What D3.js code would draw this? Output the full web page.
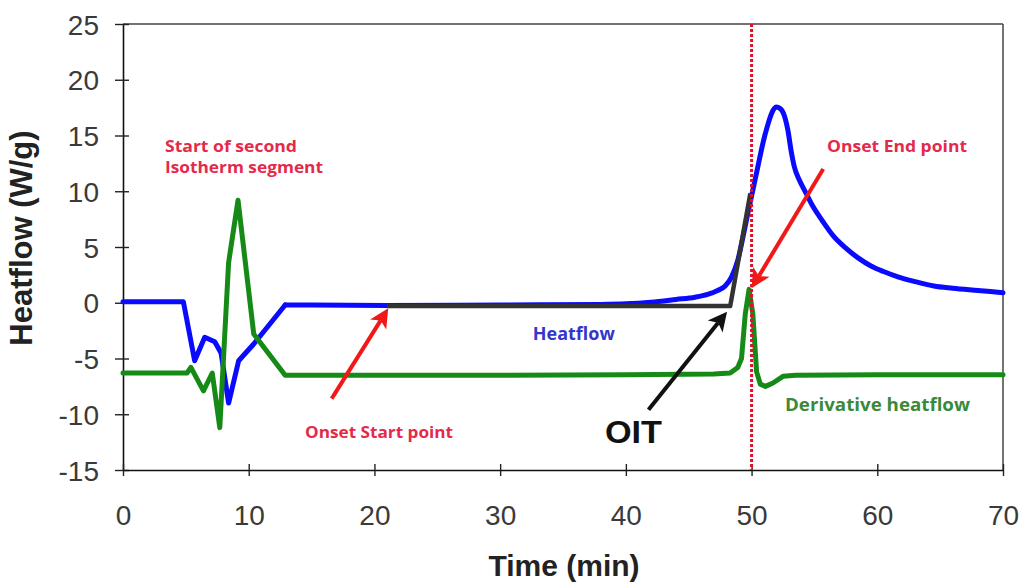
<!DOCTYPE html>
<html><head><meta charset="utf-8">
<script src="https://cdn.jsdelivr.net/npm/d3@7"></script>
<style>body{margin:0;background:#fff} svg{display:block}</style>
</head><body><svg id="c" width="1024" height="583"></svg>
<script>
// ---------- data ----------
const xTicks = [0, 10, 20, 30, 40, 50, 60, 70];
const yTicks = [25, 20, 15, 10, 5, 0, -5, -10, -15];

const heatTime  = [0, 4.8, 5.7, 6.5, 7.3, 7.8, 8.4, 9.2, 10.4, 12.9, 15, 21, 30, 38, 40, 42, 44, 45.5, 46.5, 47.3, 47.9, 48.4, 48.9, 49.3, 49.7, 50.1, 50.5, 50.9, 51.3, 51.6, 51.95, 52.3, 52.6, 52.9, 53.15, 53.4, 53.8, 54.3, 54.9, 55.6, 56.5, 57.5, 58.5, 59.5, 60.5, 61.7, 63, 64.5, 66, 68, 70];
const heatValue = [0.1, 0.1, -5.2, -3.1, -3.5, -4.5, -9.0, -5.2, -3.7, -0.2, -0.2, -0.25, -0.2, -0.15, -0.1, 0.05, 0.3, 0.5, 0.75, 1.1, 1.5, 2.3, 3.8, 5.8, 8.0, 10.1, 12.2, 14.3, 16.0, 17.0, 17.55, 17.4, 16.8, 15.4, 13.6, 12.2, 11.0, 9.9, 8.6, 7.4, 6.0, 4.9, 4.0, 3.3, 2.8, 2.3, 1.9, 1.5, 1.3, 1.1, 0.9];

const derivTime  = [0, 5.1, 5.4, 6.4, 7.1, 7.7, 8.4, 9.15, 10.4, 12.9, 20, 30, 40, 47, 48.3, 48.9, 49.2, 49.5, 49.8, 50.1, 50.4, 50.7, 51.1, 51.7, 52.5, 53.5, 60, 70];
const derivValue = [-6.3, -6.3, -5.8, -7.9, -6.3, -11.2, 3.6, 9.2, -2.8, -6.5, -6.5, -6.5, -6.45, -6.4, -6.3, -5.8, -5.0, -1.0, 1.2, -1.0, -6.2, -7.3, -7.5, -7.2, -6.6, -6.5, -6.45, -6.45];

const tangentTime  = [21, 48.3, 49.9];
const tangentValue = [-0.3, -0.3, 9.8];

const oitTime = 50;

// arrows: [fromTime, fromValue, toTime, toValue]
const arrowStart = [16.6, -8.6, 21.1, -0.5];
const arrowOIT   = [41.8, -9.6, 48.05, -0.8];
const arrowEnd   = [55.7, 12.0, 50.0, 1.3];

// ---------- chart ----------
const svg = d3.select("#c");
const x = d3.scaleLinear().domain([0, 70]).range([123, 1003]);
const y = d3.scaleLinear().domain([-15, 25]).range([470, 24]);
const fmt = d => String(d);

// frame (top & right)
svg.append("line").attr("x1", x(0)).attr("x2", x(70)).attr("y1", y(25)).attr("y2", y(25))
  .attr("stroke", "#444").attr("stroke-width", 1.5);
svg.append("line").attr("x1", x(70)).attr("x2", x(70)).attr("y1", y(25)).attr("y2", y(-15))
  .attr("stroke", "#444").attr("stroke-width", 1.5);

// axes
const gy = svg.append("g").attr("transform", `translate(${x(0)},0)`)
  .call(d3.axisLeft(y).tickValues(yTicks).tickFormat(fmt).tickSize(0).tickPadding(0));
gy.select(".domain").attr("stroke", "#111").attr("stroke-width", 1.6);
gy.selectAll(".tick line").attr("x1", -8).attr("x2", 6).attr("stroke", "#222").attr("stroke-width", 1.4);
gy.selectAll(".tick text").attr("x", -24).attr("dy", "0.36em")
  .style("font-family", "Liberation Sans, Arial, sans-serif").style("font-size", "28px").attr("fill", "#3a3a3a");

const gx = svg.append("g").attr("transform", `translate(0,${y(-15)})`)
  .call(d3.axisBottom(x).tickValues(xTicks).tickFormat(fmt).tickSize(0).tickPadding(0));
gx.select(".domain").attr("stroke", "#111").attr("stroke-width", 1.6);
gx.selectAll(".tick line").attr("y1", -6).attr("y2", 6).attr("stroke", "#222").attr("stroke-width", 1.4);
gx.selectAll(".tick text").attr("y", 55).attr("dy", 0)
  .style("font-family", "Liberation Sans, Arial, sans-serif").style("font-size", "28px").attr("fill", "#3a3a3a");

// axis titles
svg.append("text").attr("transform", `translate(32,238) rotate(-90)`).attr("text-anchor", "middle")
  .style("font-family", "Liberation Sans, Arial, sans-serif").style("font-size", "31px").style("font-weight", "bold")
  .attr("fill", "#222").text("Heatflow (W/g)");
svg.append("text").attr("x", 564).attr("y", 576).attr("text-anchor", "middle")
  .style("font-family", "Liberation Sans, Arial, sans-serif").style("font-size", "30px").style("font-weight", "bold")
  .attr("fill", "#222").text("Time (min)");

// lines
const line = d3.line().x(d => x(d[0])).y(d => y(d[1]));
const smooth = d3.line().x(d => x(d[0])).y(d => y(d[1])).curve(d3.curveMonotoneX);
const heat = d3.zip(heatTime, heatValue);
const deriv = d3.zip(derivTime, derivValue);
const tangent = d3.zip(tangentTime, tangentValue);
const heatEarly = heat.filter(d => d[0] <= 12.9);
const heatLate = heat.filter(d => d[0] >= 12.9);

const heatStyle = p => p.attr("fill", "none").attr("stroke", "#0a0aff")
  .attr("stroke-width", 5).attr("stroke-linejoin", "round").attr("stroke-linecap", "round");
svg.append("path").attr("d", line(heatEarly)).call(heatStyle);
svg.append("path").attr("d", smooth(heatLate)).call(heatStyle);
svg.append("path").attr("d", line(tangent)).attr("fill", "none").attr("stroke", "#333")
  .attr("stroke-width", 4.5).attr("stroke-linejoin", "round");
svg.append("path").attr("d", line(deriv)).attr("fill", "none").attr("stroke", "#168a16")
  .attr("stroke-width", 5).attr("stroke-linejoin", "round").attr("stroke-linecap", "round");

// OIT dotted line
svg.append("line").attr("x1", x(oitTime)).attr("x2", x(oitTime)).attr("y1", y(25)).attr("y2", y(-15))
  .attr("stroke", "#e0102a").attr("stroke-width", 3).attr("stroke-dasharray", "3,2");

// arrows
function arrow(a, color) {
  const x0 = x(a[0]), y0 = y(a[1]), x1 = x(a[2]), y1 = y(a[3]);
  const ang = Math.atan2(y1 - y0, x1 - x0);
  const L = 19, W = 9.5;
  const bx = x1 - L * Math.cos(ang), by = y1 - L * Math.sin(ang);
  const nx = x1 - L * 0.75 * Math.cos(ang), ny = y1 - L * 0.75 * Math.sin(ang);
  const px = -Math.sin(ang), py = Math.cos(ang);
  svg.append("line").attr("x1", x0).attr("y1", y0).attr("x2", nx).attr("y2", ny)
    .attr("stroke", color).attr("stroke-width", 4);
  svg.append("path").attr("d", `M${x1},${y1}L${bx + px * W},${by + py * W}L${nx},${ny}L${bx - px * W},${by - py * W}Z`)
    .attr("fill", color);
}
arrow(arrowStart, "#f01818");
arrow(arrowOIT, "#111");
arrow(arrowEnd, "#f01818");

// annotations
const annFont = "'Open Sans', 'Noto Sans', sans-serif";
function ann(t, v, txt, color, size, len, weight) {
  svg.append("text").attr("x", x(t)).attr("y", y(v)).attr("fill", color)
    .style("font-family", annFont).style("font-size", size + "px").style("font-weight", weight || 700)
    .attr("textLength", len).attr("lengthAdjust", "spacingAndGlyphs").text(txt);
}
ann(3.34, 13.5, "Start of second", "#e42a4a", 16, 132);
ann(3.34, 11.6, "Isotherm segment", "#e42a4a", 16, 158);
ann(14.48, -12.1, "Onset Start point", "#e42a4a", 16, 148);
ann(32.6, -3.3, "Heatflow", "#3535cc", 17, 82);
ann(56.0, 13.5, "Onset End point", "#e42a4a", 16, 140);
ann(52.66, -9.75, "Derivative heatflow", "#3a8a3a", 17, 185);
svg.append("text").attr("x", x(38.34)).attr("y", y(-12.6)).attr("fill", "#111")
  .style("font-family", "Liberation Sans, Arial, sans-serif").style("font-size", "32px").style("font-weight", "bold")
  .attr("textLength", 57).attr("lengthAdjust", "spacingAndGlyphs").text("OIT");
</script>
</body></html>
